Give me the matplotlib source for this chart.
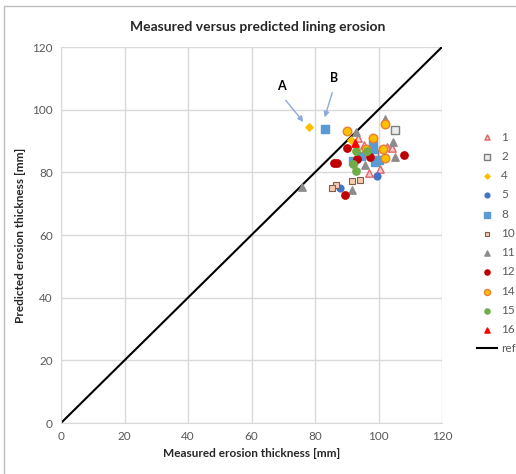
import matplotlib.pyplot as plt
from matplotlib.patches import Rectangle

plt.rcParams['font.family'] = ['Lato', 'DejaVu Sans']

# measured (x) / predicted (y) erosion thickness per series [mm]
s1_x = [93.4, 95.4, 102.7, 104.1, 97.1, 100.4]
s1_y = [91.1, 88.6, 88.0, 87.7, 79.8, 81.0]
s2_x = [105.3, 98.7]
s2_y = [93.4, 85.8]
s4_x = [78.1, 91.3]
s4_y = [94.4, 90.2]
s5_x = [99.4, 87.8]
s5_y = [78.8, 75.0]
s8_x = [83.2, 98.4, 98.2, 94.5, 91.9, 99.0, 100.1]
s8_y = [93.7, 89.0, 87.6, 85.2, 83.5, 83.4, 83.9]
s10_x = [91.7, 94.3, 86.5, 85.5]
s10_y = [77.3, 77.6, 76.1, 74.9]
s11_x = [92.9, 102.0, 104.5, 105.3, 95.8, 91.7, 75.9]
s11_y = [93.0, 97.0, 89.7, 84.8, 82.3, 74.3, 75.3]
s12_x = [90.2, 97.3, 108.1, 93.2, 86.0, 86.8, 89.6]
s12_y = [87.8, 84.9, 85.6, 84.2, 83.1, 83.1, 72.9]
s14_x = [90.2, 102.1, 98.4, 101.4, 96.1, 101.9]
s14_y = [93.3, 95.4, 91.1, 87.5, 87.6, 84.6]
s15_x = [92.8, 96.5, 92.1, 93.0]
s15_y = [86.9, 86.9, 82.6, 80.3]
s16_x = [92.5]
s16_y = [89.5]
ref_line = [0, 120]

grey = '#595959'

fig = plt.figure(figsize=(5.16, 4.74), dpi=100)
fig.patches.append(Rectangle((4 / 516, -0.1), 1.2, 1.1 - 6 / 474, transform=fig.transFigure,
                             fill=False, edgecolor='#BFBFBF', linewidth=1))
ax = fig.add_axes([61 / 516, 1 - 423 / 474, 381 / 516, 376 / 474])

ax.plot(ref_line, ref_line, color='black', linewidth=1.5, label='ref', zorder=2)

ax.scatter(s1_x, s1_y, marker='^', s=28, facecolor='#F4CCCC', edgecolor='#E06666', linewidth=1, label='1', zorder=3)
ax.scatter(s2_x, s2_y, marker='s', s=28, facecolor='#EDEDED', edgecolor='#7F7F7F', linewidth=1, label='2', zorder=3)
ax.scatter(s4_x, s4_y, marker='D', s=14, facecolor='#FFC000', edgecolor='#FFC000', label='4', zorder=3)
ax.scatter(s5_x, s5_y, marker='o', s=24, facecolor='#4472C4', edgecolor='#4472C4', label='5', zorder=3)
ax.scatter(s8_x, s8_y, marker='s', s=34, facecolor='#5B9BD5', edgecolor='#5B9BD5', label='8', zorder=3)
ax.scatter(s10_x, s10_y, marker='s', s=13, facecolor='#F8CBAD', edgecolor='#7F6050', linewidth=0.8, label='10', zorder=3)
ax.scatter(s11_x, s11_y, marker='^', s=28, facecolor='#8C8C8C', edgecolor='#8C8C8C', label='11', zorder=3)
ax.scatter(s12_x, s12_y, marker='o', s=28, facecolor='#C00000', edgecolor='#C00000', label='12', zorder=3)
ax.scatter(s14_x, s14_y, marker='o', s=38, facecolor='#FFC000', edgecolor='#ED7D31', linewidth=1, label='14', zorder=3)
ax.scatter(s15_x, s15_y, marker='o', s=28, facecolor='#70AD47', edgecolor='#70AD47', label='15', zorder=3)
ax.scatter(s16_x, s16_y, marker='^', s=28, facecolor='#FF0000', edgecolor='#FF0000', label='16', zorder=3)

arrow = dict(arrowstyle='-|>', color='#8EA9DB', linewidth=1, mutation_scale=8)
ax.annotate('', xy=(76.9, 95.4), xytext=(70.2, 103.7), arrowprops=arrow)
ax.annotate('', xy=(82.8, 96.7), xytext=(85.7, 106.3), arrowprops=arrow)
ax.text(69.3, 107.6, 'A', fontsize=9, fontweight='bold', ha='center', va='center')
ax.text(86.0, 110.1, 'B', fontsize=9, fontweight='bold', ha='center', va='center')

ax.set_xlim(0, 120)
ax.set_ylim(0, 120)
ax.set_xticks(range(0, 121, 20))
ax.set_yticks(range(0, 121, 20))
ax.grid(color='#D9D9D9', linewidth=1)
ax.set_axisbelow(True)
for side in ['top', 'right']:
    ax.spines[side].set_visible(False)
for side in ['left', 'bottom']:
    ax.spines[side].set_color('#D9D9D9')
ax.tick_params(length=0, labelsize=8.5, colors=grey, pad=6)

ax.set_xlabel('Measured erosion thickness [mm]', fontsize=8.5, fontweight='bold', color='#262626', labelpad=4)
ax.set_ylabel('Predicted erosion thickness [mm]', fontsize=8.5, fontweight='bold', color='#262626', labelpad=4)
fig.text(0.5, 1 - 27 / 474, 'Measured versus predicted lining erosion', fontsize=10,
         fontweight='bold', ha='center', va='center', color='#262626')

handles, labels = ax.get_legend_handles_labels()
handles = handles[1:] + handles[:1]
labels = labels[1:] + labels[:1]
fig.legend(handles, labels, loc='center left', bbox_to_anchor=(466 / 516, 1 - 243 / 474),
           frameon=False, fontsize=8.5, labelspacing=0.7, handlelength=1.7, handletextpad=0.4,
           labelcolor=grey, markerscale=0.7)

fig.savefig('out.png', dpi=100)
